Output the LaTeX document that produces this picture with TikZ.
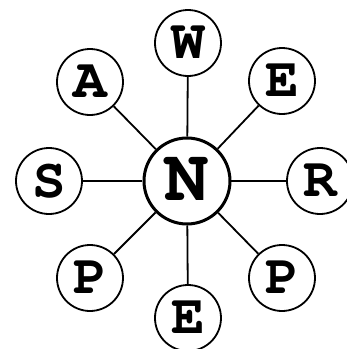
\documentclass[tikz,border=0pt]{standalone}
\usepackage[T1]{fontenc}
\usepackage{courier}
\usetikzlibrary{positioning}

\tikzset{
  hub/.style={draw, circle, line width=1.5pt, minimum size=43pt, inner sep=0pt,
              font=\ttfamily\bfseries\fontsize{37}{37}\selectfont},
  leaf/.style={draw, circle, line width=0.9pt, minimum size=33pt, inner sep=0pt,
               font=\ttfamily\bfseries\fontsize{28}{28}\selectfont},
  spoke/.style={line width=0.9pt}
}

\begin{document}
\begin{tikzpicture}
  \useasboundingbox (-93.5pt,-84pt) rectangle (80pt,90.5pt);
  \clip (-93.5pt,-84pt) rectangle (80pt,90.5pt);

  \node[hub] (n) at (0,0) {N};

  \node[leaf] (w)  at (0.5pt,69pt)    {W};
  \node[leaf] (e1) at (47.5pt,50pt)   {E};
  \node[leaf] (r)  at (66.5pt,0)      {R};
  \node[leaf] (p2) at (47.5pt,-48.5pt) {P};
  \node[leaf] (e2) at (0.5pt,-68.5pt) {E};
  \node[leaf] (p1) at (-48.5pt,-48.5pt) {P};
  \node[leaf] (s)  at (-69pt,0)       {S};
  \node[leaf] (a)  at (-48.5pt,49.5pt) {A};

  \draw[spoke] (n) -- (w);
  \draw[spoke] (n) -- (e1);
  \draw[spoke] (n) -- (r);
  \draw[spoke] (n) -- (p2);
  \draw[spoke] (n) -- (e2);
  \draw[spoke] (n) -- (p1);
  \draw[spoke] (n) -- (s);
  \draw[spoke] (n) -- (a);
\end{tikzpicture}
\end{document}
